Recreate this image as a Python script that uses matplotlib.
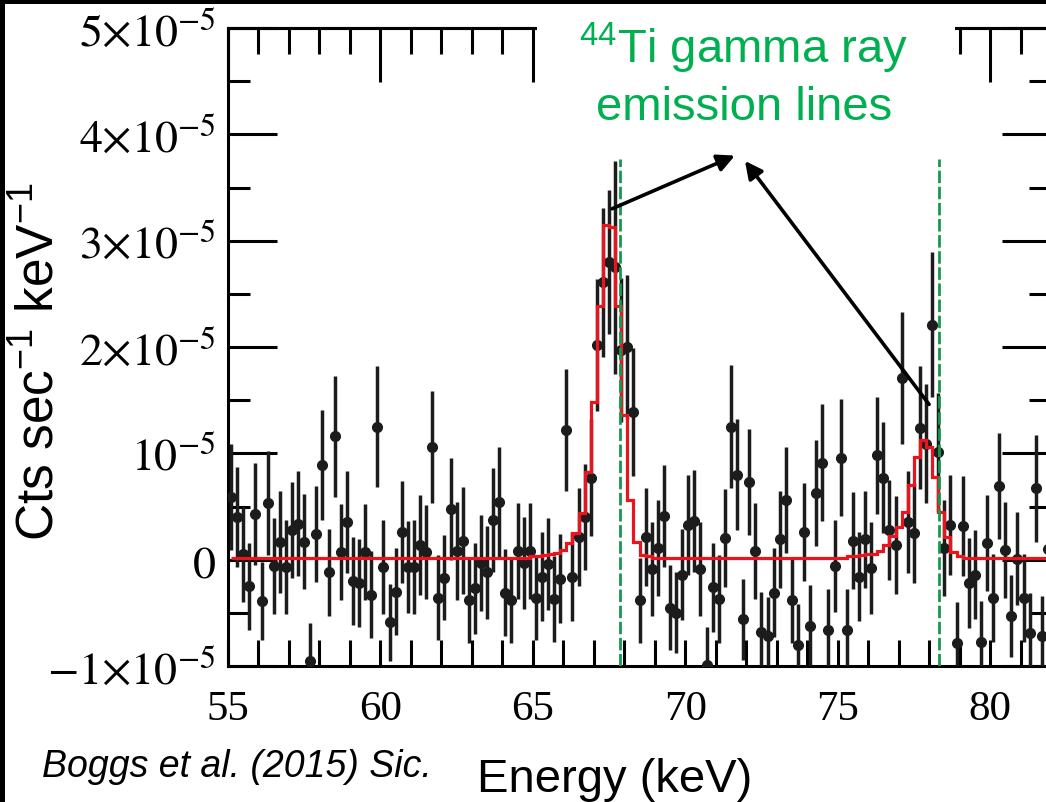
import numpy as np
import matplotlib
matplotlib.use("Agg")
import matplotlib.pyplot as plt
from matplotlib.patches import Rectangle

plt.rcParams["mathtext.fontset"] = "custom"
plt.rcParams["mathtext.rm"] = "Liberation Sans"
plt.rcParams["mathtext.it"] = "Liberation Sans:italic"
plt.rcParams["font.family"] = ["Liberation Sans", "DejaVu Sans"]

# --- Data (count rate in units of 1e-5 cts/s/keV) ---

# 0.2 keV channel centres
energy = np.round(np.arange(55.1, 82.0, 0.2), 1)

rate = [
    0.59, 0.40, 0.05, -0.25, 0.43, -0.39, 0.53, -0.06, 0.17, -0.07,
    0.28, 0.34, 0.17, -0.95, 0.24, 0.89, -0.12, 1.16, 0.07, 0.35,
    -0.20, -0.22, 0.07, -0.33, 1.25, -0.07, -0.59, -0.30, 0.26, -0.07,
    -0.07, 0.14, 0.07, 1.06, -0.36, -0.17, 0.48, 0.08, 0.18, -0.38,
    -0.27, -0.03, -0.12, 0.37, 0.54, -0.31, -0.38, 0.08, -0.03, 0.08,
    -0.36, -0.16, -0.04, -0.37, -0.18, 1.22, -0.16, 0.21, 0.40, 0.77,
    2.02, 2.61, 2.80, 2.75, 1.97, 2.00, 1.39, -0.38, 0.21, -0.09,
    0.11, 0.41, -0.45, -0.50, -0.14, 0.33, 0.36, -0.09, -0.99, -0.26,
    -0.37, 0.20, 1.25, 0.80, -0.56, 0.73, 0.08, -0.68, -0.72, -0.31,
    0.19, 0.56, -0.38, -0.80, 0.26, -0.62, 0.63, 0.91, -0.66, -0.06,
    0.96, -0.66, 0.18, -0.16, 0.19, -0.08, 0.98, 0.77, 0.28, 0.14,
    1.71, 0.35, 0.25, 1.24, 1.09, 2.21, 1.01, 0.11, 0.33, -0.78,
    0.32, -0.22, -0.14, -0.77, 0.16, -0.36, 0.69, 0.09, -0.53, 0.01,
    -0.36, -0.69, 0.67, -0.72, 0.10,
]

rate_err = [
    0.50, 0.47, 0.45, 0.41, 0.48, 0.37, 0.49, 0.45, 0.48, 0.44,
    0.45, 0.49, 0.45, 0.35, 0.45, 0.52, 0.41, 0.57, 0.45, 0.48,
    0.41, 0.41, 0.45, 0.41, 0.57, 0.44, 0.36, 0.41, 0.48, 0.43,
    0.44, 0.47, 0.44, 0.53, 0.40, 0.40, 0.48, 0.46, 0.50, 0.40,
    0.43, 0.45, 0.44, 0.49, 0.52, 0.41, 0.40, 0.45, 0.43, 0.45,
    0.40, 0.42, 0.43, 0.40, 0.42, 0.57, 0.42, 0.46, 0.50, 0.55,
    0.62, 0.70, 0.68, 1.00, 0.68, 0.68, 0.60, 0.40, 0.46, 0.44,
    0.45, 0.48, 0.40, 0.38, 0.43, 0.47, 0.48, 0.44, 0.36, 0.42,
    0.41, 0.46, 0.58, 0.52, 0.38, 0.50, 0.45, 0.38, 0.37, 0.42,
    0.46, 0.50, 0.40, 0.38, 0.46, 0.38, 0.50, 0.55, 0.38, 0.43,
    0.55, 0.38, 0.46, 0.42, 0.46, 0.43, 0.55, 0.52, 0.47, 0.46,
    0.62, 0.48, 0.47, 0.58, 0.56, 0.68, 0.56, 0.45, 0.47, 0.38,
    0.47, 0.42, 0.42, 0.38, 0.45, 0.41, 0.50, 0.45, 0.39, 0.44,
    0.41, 0.38, 0.50, 0.38, 0.45,
]

# best-fit model, one value per channel
model = (
    [0.02] * 49
    + [0.03, 0.03, 0.04, 0.05, 0.06, 0.09, 0.16, 0.25, 0.44, 0.82,
       1.48, 2.39, 3.15, 3.13, 2.39, 1.36, 0.56, 0.17, 0.04, 0.03]
    + [0.02] * 32
    + [0.03, 0.03, 0.04, 0.05, 0.05, 0.08, 0.14, 0.22, 0.31, 0.45,
       0.70, 0.97, 1.13, 1.06, 0.78, 0.45, 0.21, 0.07, 0.03]
    + [0.02] * 15
)
model_edges = np.append(energy, 82.1)

ti_lines = [67.87, 78.32]
ytick_vals = [-1, 0, 1, 2, 3, 4, 5]
ytick_text = [r"$-1{\times}10^{-5}$", r"$0$", r"$10^{-5}$", r"$2{\times}10^{-5}$",
              r"$3{\times}10^{-5}$", r"$4{\times}10^{-5}$", r"$5{\times}10^{-5}$"]
xtick_vals = [55, 60, 65, 70, 75, 80]

# --- Figure ---

W, H = 1046, 803
fig = plt.figure(figsize=(W / 100, H / 100), dpi=100)
ax = fig.add_axes([228 / W, 1 - 667 / H, 823 / W, 638 / H])

ax.errorbar(energy, rate, yerr=rate_err, fmt="o", color="#1c1c1c", ms=7,
            elinewidth=2.5, capsize=0, zorder=3)
ax.stairs(model, model_edges, baseline=None, color="#e8151f", lw=2.3, zorder=4)
ax.vlines(ti_lines, -1.0, 3.77, colors="#129a4c", lw=2.0,
          linestyles=[(0, (4.5, 1.3))], zorder=5)

ax.set_xlim(55, 82)
ax.set_ylim(-1, 5)

ax.set_xticks(xtick_vals)
ax.set_xticks(np.arange(55, 83, 1), minor=True)
ax.set_xticklabels([str(v) for v in xtick_vals], fontfamily="Liberation Serif", fontsize=31)
ax.set_yticks(ytick_vals)
ax.set_yticks(np.arange(-1, 5.1, 0.5), minor=True)
ax.set_yticklabels(ytick_text, fontsize=33, math_fontfamily="stix")

ax.tick_params(axis="x", which="both", direction="in", length=19, width=2.2,
               top=False, bottom=True, pad=17)
ax.tick_params(axis="y", which="major", direction="in", length=35, width=2.2,
               left=True, right=True, pad=9)
ax.tick_params(axis="y", which="minor", direction="in", length=16, width=2.2,
               left=True, right=True)
for s in ax.spines.values():
    s.set_linewidth(2.2)

top = ax.secondary_xaxis("top")
top.set_xticks(xtick_vals)
top.set_xticks(np.arange(55, 83, 1), minor=True)
top.tick_params(which="major", direction="in", length=39, width=2.2, labeltop=False)
top.tick_params(which="minor", direction="in", length=19, width=2.2)
top.spines["top"].set_linewidth(2.2)

# arrows to the two lines
arrow = dict(arrowstyle="-|>", color="black", lw=2.6, mutation_scale=26,
             shrinkA=0, shrinkB=0)
ax.annotate("", xy=(71.63, 3.80), xytext=(67.60, 3.30), arrowprops=arrow, zorder=6)
ax.annotate("", xy=(71.96, 3.75), xytext=(78.0, 1.46), arrowprops=arrow, zorder=6)

# white box behind the label (hides the top frame there)
fig.patches.append(Rectangle((537 / W, 1 - 140 / H), (955 - 537) / W, 125 / H,
                             transform=fig.transFigure, facecolor="white",
                             edgecolor="none", zorder=5))
fig.text(744 / W, 1 - 63 / H, "$^{44}$Ti gamma ray", ha="center",
         va="baseline", color="#00b050", fontsize=34, zorder=6)
fig.text(744 / W, 1 - 120 / H, "emission lines", ha="center",
         va="baseline", color="#00b050", fontsize=34, zorder=6)

fig.text(40 / W, 1 - 362 / H, r"Cts sec$^{-1}$ keV$^{-1}$", rotation=90,
         ha="center", va="center", fontsize=37)
fig.text(615 / W, 1 - 792 / H, "Energy (keV)", ha="center", va="baseline", fontsize=34)
fig.text(42 / W, 1 - 777 / H, "Boggs et al. (2015) Sic.", ha="left", va="baseline",
         fontsize=27, style="italic")

# black frame strips at top and left edges
fig.patches.append(Rectangle((0, 1 - 5 / H), 1, 5 / H, transform=fig.transFigure,
                             facecolor="black", edgecolor="none", zorder=10))
fig.patches.append(Rectangle((0, 0), 5 / W, 1, transform=fig.transFigure,
                             facecolor="black", edgecolor="none", zorder=10))

fig.savefig("out.png", dpi=100)
